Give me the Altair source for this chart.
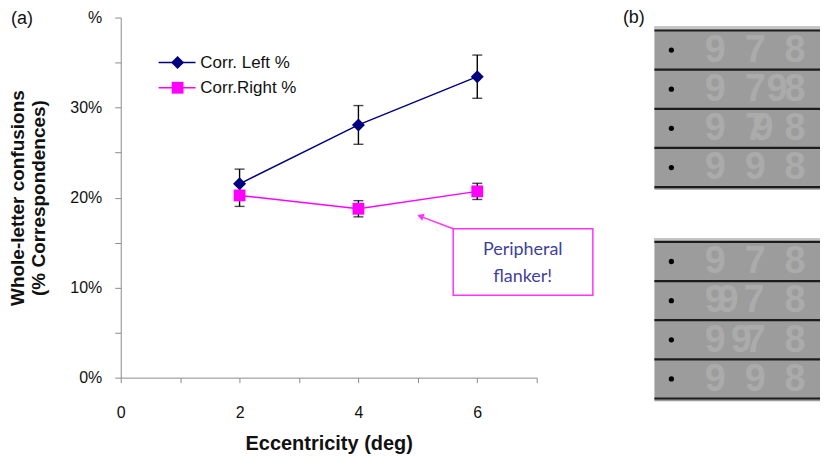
import altair as alt
import pandas as pd

# ---------------- data (panel a) ----------------
ecc = [2, 4, 6]
left_val = [0.2153, 0.2807, 0.3343]
left_err = [0.0163, 0.0215, 0.0240]
right_val = [0.2024, 0.1876, 0.2069]
right_err = [0.0122, 0.0090, 0.0090]
series_names = ["Corr. Left %", "Corr.Right %"]
series_colors = ["#000080", "#ff00ff"]
series_shapes = ["diamond", "square"]
series_sizes = [170, 140]
x_ticks = [0, 1, 2, 3, 4, 5, 6, 7]
y_ticks = [0, 0.05, 0.10, 0.15, 0.20, 0.25, 0.30, 0.35, 0.40]
note_lines = ["Peripheral", "flanker!"]

# ---------------- data (panel b) ----------------
digit_rows_top = [
    [("9", 0), ("7", 1), ("8", 2)],
    [("9", 0), ("7", 1), ("9", 1.55), ("8", 2)],
    [("9", 0), ("7", 1), ("9", 1.2), ("8", 2)],
    [("9", 0), ("9", 1), ("8", 2)],
]
digit_rows_bottom = [
    [("9", 0), ("7", 1), ("8", 2)],
    [("9", 0), ("9", 0.32), ("7", 0.97), ("8", 2)],
    [("9", 0), ("9", 0.65), ("7", 1.0), ("8", 2)],
    [("9", 0), ("9", 1), ("8", 2)],
]

FONT = "Liberation Sans"

rows = []
for name, vals, errs in [(series_names[0], left_val, left_err), (series_names[1], right_val, right_err)]:
    for e, v, er in zip(ecc, vals, errs):
        rows.append({"series": name, "ecc": e, "val": v, "lo": v - er, "hi": v + er})
df = pd.DataFrame(rows)

xscale = alt.Scale(domain=[0, 7], nice=False, zero=False)
yscale = alt.Scale(domain=[0, 0.4], nice=False)
xaxis = alt.Axis(values=x_ticks, labelExpr="datum.value % 2 == 0 ? datum.value : ''",
                 grid=False, tickSize=5, labelPadding=22, titlePadding=13, labelFlush=False,
                 domainColor="#8c8c8c", tickColor="#8c8c8c",
                 labelFontSize=16, labelColor="#111", labelFont=FONT,
                 titleFontSize=20, titleFontWeight="bold", titleFont=FONT, titleColor="#111")
yaxis = alt.Axis(values=y_ticks,
                 labelExpr="abs(datum.value*10 - round(datum.value*10)) > 0.01 ? '' : (datum.value > 0.39 ? '%' : format(datum.value, '.0%'))",
                 grid=False, tickSize=6, labelPadding=13, titlePadding=21, labelFlush=False,
                 domainColor="#8c8c8c", tickColor="#8c8c8c",
                 labelFontSize=16, labelColor="#111", labelFont=FONT,
                 titleFontSize=19, titleFontWeight="bold", titleFont=FONT, titleColor="#111",
                 titleLineHeight=21)
XT = "Eccentricity (deg)"
YT = ["Whole-letter confusions", "(% Correspondences)"]


def X(f):
    return alt.X(f, type="quantitative", scale=xscale, axis=xaxis, title=XT)


def Y(f):
    return alt.Y(f, type="quantitative", scale=yscale, axis=yaxis, title=YT)


color = alt.Color("series:N", scale=alt.Scale(domain=series_names, range=series_colors), legend=None)
shape = alt.Shape("series:N", scale=alt.Scale(domain=series_names, range=series_shapes), legend=None)
size = alt.Size("series:N", scale=alt.Scale(domain=series_names, range=series_sizes), legend=None)

base = alt.Chart(df)
lines = base.mark_line(strokeWidth=1.5).encode(x=X("ecc"), y=Y("val"), color=color)
ebars = base.mark_rule(color="black", strokeWidth=1.4).encode(x=X("ecc"), y=Y("lo"), y2="hi")
cap_lo = base.mark_tick(color="black", thickness=1.4, size=10, orient="horizontal").encode(x=X("ecc"), y=Y("lo"))
cap_hi = base.mark_tick(color="black", thickness=1.4, size=10, orient="horizontal").encode(x=X("ecc"), y=Y("hi"))
points = base.mark_point(filled=True, opacity=1).encode(x=X("ecc"), y=Y("val"), color=color, shape=shape, size=size)

# legend drawn in data space
LEG_X0, LEG_X1, LEG_XM, LEG_XT = 0.638, 1.259, 0.957, 1.34
LEG_Y = [0.350, 0.322]
leg_df = pd.DataFrame({"series": series_names, "x0": LEG_X0, "x1": LEG_X1, "xm": LEG_XM, "xt": LEG_XT, "ly": LEG_Y})
leg = alt.Chart(leg_df)
leg_lines = leg.mark_rule(strokeWidth=1.5).encode(x=X("x0"), x2="x1", y=Y("ly"), color=color)
leg_pts = leg.mark_point(filled=True, opacity=1).encode(x=X("xm"), y=Y("ly"), color=color, shape=shape, size=size)
leg_txt = leg.mark_text(align="left", baseline="middle", fontSize=17, font=FONT, color="#111").encode(
    x=X("xt"), y=Y("ly"), text="series:N")

# annotation box + arrow
BOX = {"bx0": 5.595, "bx1": 7.945, "by0": 0.0916, "by1": 0.1654}
box = alt.Chart(pd.DataFrame([BOX])).mark_rect(fill="white", fillOpacity=0, stroke="#ff33ff", strokeWidth=1.5).encode(
    x=X("bx0"), x2="bx1", y=Y("by0"), y2="by1")
ARROW = {"ax0": 5.595, "ay0": 0.1654, "ax1": 5.01, "ay1": 0.1800}
arrow = alt.Chart(pd.DataFrame([ARROW])).mark_rule(color="#ff33ff", strokeWidth=1.5).encode(
    x=X("ax0"), y=Y("ay0"), x2="ax1", y2="ay1")
head = alt.Chart(pd.DataFrame([{"hx": 5.043, "hy": 0.1794}])).mark_point(
    shape="triangle-up", filled=True, opacity=1, angle=291, size=55, color="#ff33ff").encode(x=X("hx"), y=Y("hy"))
note_df = pd.DataFrame({"t": note_lines, "nx": [6.765, 6.765], "ny": [0.142, 0.112]})
note = alt.Chart(note_df).mark_text(font="Lato", fontSize=18, color="#3f3f9f", baseline="middle").encode(
    x=X("nx"), y=Y("ny"), text="t:N")

label_a = alt.Chart(pd.DataFrame({"t": ["(a)"]})).mark_text(fontSize=18, font=FONT, color="#111", baseline="middle").encode(
    x=alt.value(-99), y=alt.value(1), text="t:N")

panel_a = alt.layer(lines, ebars, cap_lo, cap_hi, points, leg_lines, leg_pts, leg_txt,
                    box, arrow, head, note, label_a).properties(
    width=417, height=361, view=alt.ViewBackground(strokeOpacity=0, strokeWidth=0))

# ---------------- panel b ----------------
GROUP_OFFSET = [0, 5.4]
XR = 2.625
bx = alt.Scale(domain=[-2.4, XR], nice=False, zero=False)
by = alt.Scale(domain=[-0.331, 9.478], nice=False, zero=False, reverse=True)


def BX(f):
    return alt.X(f, type="quantitative", scale=bx, axis=None)


def BY(f):
    return alt.Y(f, type="quantitative", scale=by, axis=None)


gray_rows, strip_rows, line_rows, dot_rows, dig_rows = [], [], [], [], []
for g, grp in enumerate([digit_rows_top, digit_rows_bottom]):
    off = GROUP_OFFSET[g]
    gray_rows.append({"x0": -1.525, "x1": XR, "y0": off - 0.1, "y1": off + 4.07})
    strip_rows.append({"x0": -1.525, "x1": XR, "y0": off - 0.1, "y1": off - 0.02})
    for k in range(5):
        line_rows.append({"x0": -1.525, "x1": XR, "y": off + k})
    for r, row in enumerate(grp):
        dot_rows.append({"x": -1.1, "y": off + r + 0.5})
        for ch, slot in row:
            dig_rows.append({"ch": ch, "x": slot, "y": off + r + 0.52})

gray = alt.Chart(pd.DataFrame(gray_rows)).mark_rect(color="#9c9c9c").encode(x=BX("x0"), x2="x1", y=BY("y0"), y2="y1")
strip = alt.Chart(pd.DataFrame(strip_rows)).mark_rect(color="#c4c4c4").encode(x=BX("x0"), x2="x1", y=BY("y0"), y2="y1")
hlines = alt.Chart(pd.DataFrame(line_rows)).mark_rule(color="#1c1c1c", strokeWidth=2.2).encode(x=BX("x0"), x2="x1", y=BY("y"))
dots = alt.Chart(pd.DataFrame(dot_rows)).mark_point(filled=True, opacity=1, color="black", size=28, shape="circle").encode(
    x=BX("x"), y=BY("y"))
digits = alt.Chart(pd.DataFrame(dig_rows)).mark_text(font=FONT, fontWeight="bold", fontSize=38, color="#adadad",
                                                     baseline="middle", opacity=0.9).encode(
    x=BX("x"), y=BY("y"), text="ch:N")
label_b = alt.Chart(pd.DataFrame({"t": ["(b)"], "x": [-2.04], "y": [-0.306]})).mark_text(
    fontSize=18, font=FONT, color="#111", baseline="middle").encode(x=BX("x"), y=BY("y"), text="t:N")

panel_b = alt.layer(gray, strip, hlines, dots, digits, label_b).properties(
    width=201, height=385, view=alt.ViewBackground(strokeOpacity=0, strokeWidth=0))

chart = alt.hconcat(panel_a, panel_b, spacing=25).properties(
    padding={"left": 0, "top": 0, "right": 0, "bottom": 0}
).configure_view(strokeWidth=0, stroke="transparent").configure(background="white")

chart.save("out.html", embed_options={"renderer": "svg", "actions": False})
